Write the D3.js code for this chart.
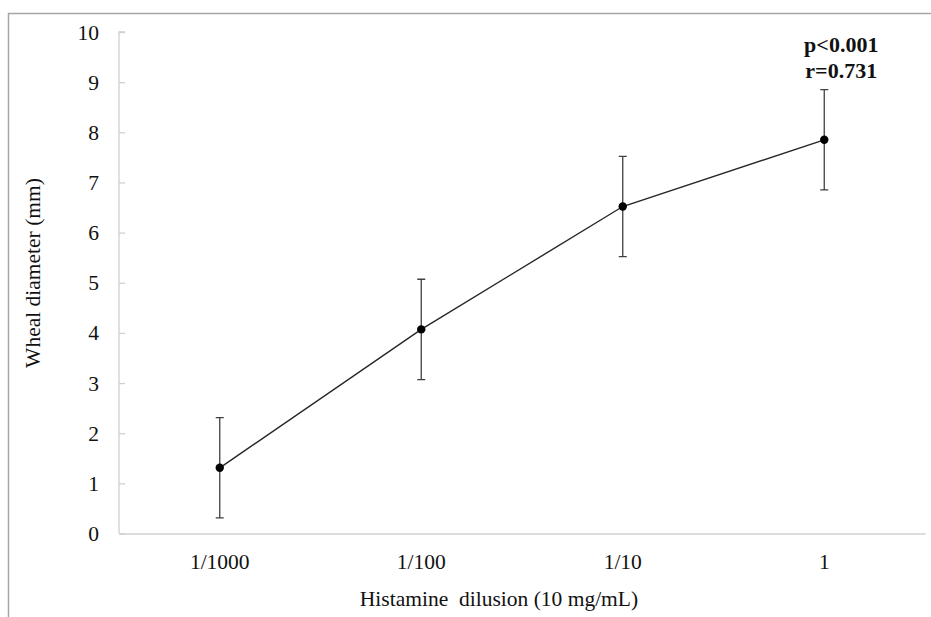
<!DOCTYPE html>
<html><head><meta charset="utf-8">
<script src="https://cdn.jsdelivr.net/npm/d3@7"></script>
<style>body{margin:0;background:#fff}svg{display:block}</style>
</head><body>
<svg id="c" width="931" height="617"></svg>
<script>
const categories = ["1/1000", "1/100", "1/10", "1"];
const means = [1.31, 4.07, 6.52, 7.85];
const errors = [1.0, 1.0, 1.0, 1.0];
const yTicks = [0,1,2,3,4,5,6,7,8,9,10];
const annotation = ["p<0.001", "r=0.731"];

const svg = d3.select("#c");
const font = "'Liberation Serif','Times New Roman',serif";
const fs = 21.5;
// outer frame
svg.append("path").attr("d","M8.5,617 V13.5 H931").attr("fill","none").attr("stroke","#a6a6a6").attr("stroke-width",1.5);

const m = {left:119, right:925, top:32, bottom:533.5};
const x = d3.scaleBand().domain(categories).range([m.left, m.right]);
const y = d3.scaleLinear().domain([0,10]).range([m.bottom, m.top]);

// y axis
const ya = svg.append("g").attr("transform",`translate(${m.left},0)`)
  .call(d3.axisRight(y).tickValues(yTicks).tickSize(6).tickFormat(""));
ya.selectAll("path,line").attr("stroke","#d0d0d0").attr("stroke-width",1.3);
ya.select(".domain").attr("d",`M6,${m.top}H0V${m.bottom}`);
svg.append("g").selectAll("text").data(yTicks).join("text")
  .attr("x", 99).attr("y", d=>y(d)).attr("dy","0.35em").attr("text-anchor","end")
  .attr("font-family",font).attr("font-size",fs).attr("fill","#111").text(d=>d);

// x axis
const xa = svg.append("g").attr("transform",`translate(0,${m.bottom})`)
  .call(d3.axisBottom(x).tickSize(0).tickFormat(""));
xa.select(".domain").attr("stroke","#d0d0d0").attr("stroke-width",1.3);
svg.append("g").selectAll("text").data(categories).join("text")
  .attr("x", d=>x(d)+x.bandwidth()/2).attr("y", 561).attr("dy","0.35em").attr("text-anchor","middle")
  .attr("font-family",font).attr("font-size",fs).attr("fill","#111").text(d=>d);

// axis titles
svg.append("text").attr("transform",`translate(32,${273}) rotate(-90)`)
  .attr("text-anchor","middle").attr("dy","0.35em").attr("font-family",font).attr("font-size",fs).attr("fill","#111")
  .text("Wheal diameter (mm)");
svg.append("text").attr("x",499).attr("y",598).attr("dy","0.35em").attr("text-anchor","middle")
  .attr("font-family",font).attr("font-size",fs).attr("fill","#111").text("Histamine\u00a0 dilusion (10 mg/mL)");

const data = categories.map((c,i)=>({c, v:means[i], e:errors[i]}));
const cx = d=>x(d.c)+x.bandwidth()/2;

// error bars
const eb = svg.append("g").attr("stroke","#404040").attr("stroke-width",1.3).attr("fill","none");
eb.selectAll("path").data(data).join("path")
  .attr("d", d=>`M${cx(d)-4},${y(d.v+d.e)}H${cx(d)+4}M${cx(d)},${y(d.v+d.e)}V${y(d.v-d.e)}M${cx(d)-4},${y(d.v-d.e)}H${cx(d)+4}`);

// line
svg.append("path").datum(data).attr("fill","none").attr("stroke","#262626").attr("stroke-width",1.4)
  .attr("d", d3.line().x(cx).y(d=>y(d.v)));
svg.append("g").selectAll("circle").data(data).join("circle")
  .attr("cx",cx).attr("cy",d=>y(d.v)).attr("r",4.2).attr("fill","#000");

// annotation
svg.append("g").selectAll("text").data(annotation).join("text")
  .attr("x", cx(data[3]) + 17).attr("y",(d,i)=>44+i*26).attr("dy","0.35em").attr("text-anchor","middle")
  .attr("font-family",font).attr("font-size",22).attr("font-weight","bold").attr("fill","#111").text(d=>d);
</script>
</body></html>
